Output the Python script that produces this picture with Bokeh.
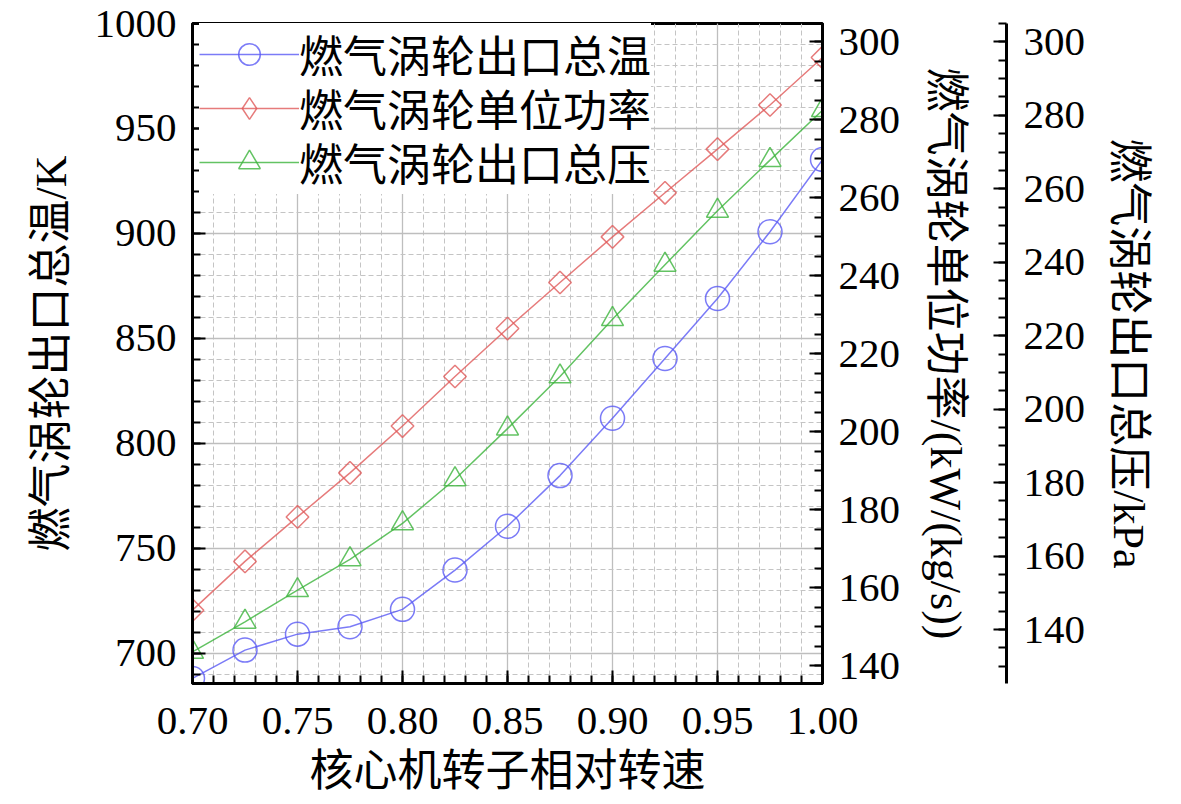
import numpy as np
from bokeh.plotting import figure
from bokeh.models import (LinearAxis, Range1d, FixedTicker, Legend, LegendItem)
from bokeh.embed import file_html
from bokeh.resources import INLINE

# ---- data ----
speed = [0.70, 0.725, 0.75, 0.775, 0.80, 0.825, 0.85, 0.875, 0.90, 0.925, 0.95, 0.975, 1.00]
temp_K = [688.1, 701.6, 709.2, 712.7, 721.0, 739.7, 760.6, 784.7, 812.0, 840.5, 869.0, 900.8, 935.2]
power_kW = [154.3, 166.8, 178.2, 189.5, 201.5, 214.2, 226.5, 238.3, 250.0, 261.3, 272.5, 283.8, 296.0]
press_kPa = [133.9, 142.1, 150.7, 159.1, 168.9, 180.9, 194.7, 208.9, 224.5, 239.3, 254.0, 267.8, 281.4]

series_names = ["燃气涡轮出口总温", "燃气涡轮单位功率", "燃气涡轮出口总压"]
x_label = "核心机转子相对转速"
y_label = "燃气涡轮出口总温/K"
y2_label = "燃气涡轮单位功率/(kW/(kg/s))"
y3_label = "燃气涡轮出口总压/kPa"

x_ticks = [0.70, 0.75, 0.80, 0.85, 0.90, 0.95, 1.00]
x_tick_labels = ["0.70", "0.75", "0.80", "0.85", "0.90", "0.95", "1.00"]
y_ticks = [700, 750, 800, 850, 900, 950, 1000]
y2_ticks = [140, 160, 180, 200, 220, 240, 260, 280, 300]
y3_ticks = [140, 160, 180, 200, 220, 240, 260, 280, 300]

FONT = "Liberation Serif, Noto Sans CJK SC"
TICK_FS = "41px"
LAB_FS = "44px"

BLUE = "#5a5af5"
RED = "#e05a5a"
GREEN = "#3cb43c"

def minors(lo, hi, step):
    return [round(v, 4) for v in np.arange(lo, hi + step / 2, step)]

p = figure(frame_width=630, frame_height=660,
           x_range=Range1d(0.70, 1.00), y_range=Range1d(685.7, 1000),
           output_backend="svg", toolbar_location=None,
           min_border_left=192, min_border_top=23, min_border_right=0,
           min_border_bottom=0, background_fill_color="white",
           border_fill_color="white")
p.extra_y_ranges = {"power": Range1d(135.5, 304.7), "press": Range1d(125.3, 305.0)}

p.outline_line_color = "black"
p.outline_line_width = 3
p.outline_line_alpha = 1

def style_axis(ax, label_standoff, axis_label_standoff):
    ax.axis_line_width = 3
    ax.axis_line_color = "black"
    ax.major_tick_in = 13
    ax.major_tick_out = 0
    ax.minor_tick_in = 8
    ax.minor_tick_out = 0
    ax.major_tick_line_width = 2
    ax.minor_tick_line_width = 2
    ax.major_tick_line_color = "black"
    ax.minor_tick_line_color = "black"
    ax.major_label_text_font = FONT
    ax.major_label_text_font_size = TICK_FS
    ax.major_label_text_color = "black"
    ax.major_label_standoff = label_standoff
    ax.axis_label_text_font = FONT
    ax.axis_label_text_font_size = LAB_FS
    ax.axis_label_text_font_style = "normal"
    ax.axis_label_text_color = "black"
    ax.axis_label_standoff = axis_label_standoff

# bottom axis
xax = p.xaxis[0]
xax.ticker = FixedTicker(ticks=x_ticks, minor_ticks=minors(0.70, 1.00, 0.01))
xax.major_label_overrides = dict(zip(x_ticks, x_tick_labels))
xax.axis_label = x_label
style_axis(xax, 24, 10)

# left axis
yax = p.yaxis[0]
yax.ticker = FixedTicker(ticks=y_ticks, minor_ticks=minors(690, 1000, 10))
yax.axis_label = y_label
style_axis(yax, 16, 16)

# power axis (inner right)
ax2 = LinearAxis(y_range_name="power", axis_label=y2_label,
                 ticker=FixedTicker(ticks=y2_ticks, minor_ticks=minors(135, 305, 5)))
style_axis(ax2, 16, 18)
ax2.axis_label_orientation = "vertical"
p.add_layout(ax2, "right")

# spacer between the two right axes
spacer = LinearAxis(y_range_name="power", ticker=FixedTicker(ticks=[]),
                    axis_line_color=None, major_tick_in=0, major_tick_out=0,
                    major_tick_line_color=None, minor_tick_line_color=None,
                    major_label_standoff=0, axis_label=" ",
                    axis_label_standoff=28, axis_label_text_font_size="2px")
p.add_layout(spacer, "right")

# pressure axis (outer right)
ax3 = LinearAxis(y_range_name="press", axis_label=y3_label,
                 ticker=FixedTicker(ticks=y3_ticks, minor_ticks=minors(130, 305, 5)))
style_axis(ax3, 17, 16)
ax3.axis_label_orientation = "vertical"
p.add_layout(ax3, "right")

# grids
for g in (p.xgrid[0], p.ygrid[0]):
    g.grid_line_color = "#bebebe"
    g.grid_line_width = 1.3
    g.minor_grid_line_color = "#c4c4c4"
    g.minor_grid_line_width = 1
    g.minor_grid_line_dash = "5 3"

# series
l1 = p.line(speed, temp_K, line_color=BLUE, line_width=1.5, line_alpha=0.8)
s1 = p.scatter(speed, temp_K, marker="circle", size=24, fill_color=None,
               line_color=BLUE, line_width=1.5, line_alpha=0.8)
l2 = p.line(speed, power_kW, y_range_name="power", line_color=RED,
            line_width=1.5, line_alpha=0.8)
s2 = p.scatter(speed, power_kW, y_range_name="power", marker="square",
               angle=np.pi / 4, size=16, fill_color=None, line_color=RED,
               line_width=1.5, line_alpha=0.8)
# legend key for the diamond markers (hidden twin of s2, shown only in the legend)
s2_key = p.scatter(speed, power_kW, y_range_name="power", marker="diamond",
                   size=27, fill_color=None, line_color=RED, line_width=1.5,
                   line_alpha=0.8, visible=False)
l3 = p.line(speed, press_kPa, y_range_name="press", line_color=GREEN,
            line_width=1.5, line_alpha=0.8)
s3 = p.scatter(speed, press_kPa, y_range_name="press", marker="triangle",
               size=22, fill_color=None, line_color=GREEN, line_width=1.5,
               line_alpha=0.8)

# one legend per row so the row pitch matches the reference
row_renderers = [[l1, s1], [l2, s2_key], [l3, s3]]
row_bottoms = [597, 543, 489]
for name, rends, vy in zip(series_names, row_renderers, row_bottoms):
    lg = Legend(items=[LegendItem(label=name, renderers=rends)], location=(7, vy))
    lg.label_text_font = FONT
    lg.label_text_font_size = LAB_FS
    lg.label_text_color = "black"
    lg.glyph_width = 100
    lg.glyph_height = 54
    lg.label_height = 54
    lg.label_standoff = 0
    lg.spacing = 0
    lg.padding = 0
    lg.margin = 0
    lg.border_line_color = None
    lg.background_fill_color = "white"
    lg.background_fill_alpha = 1
    lg.inactive_fill_alpha = 0
    p.add_layout(lg)

open("out.html", "w").write(file_html(p, INLINE))
